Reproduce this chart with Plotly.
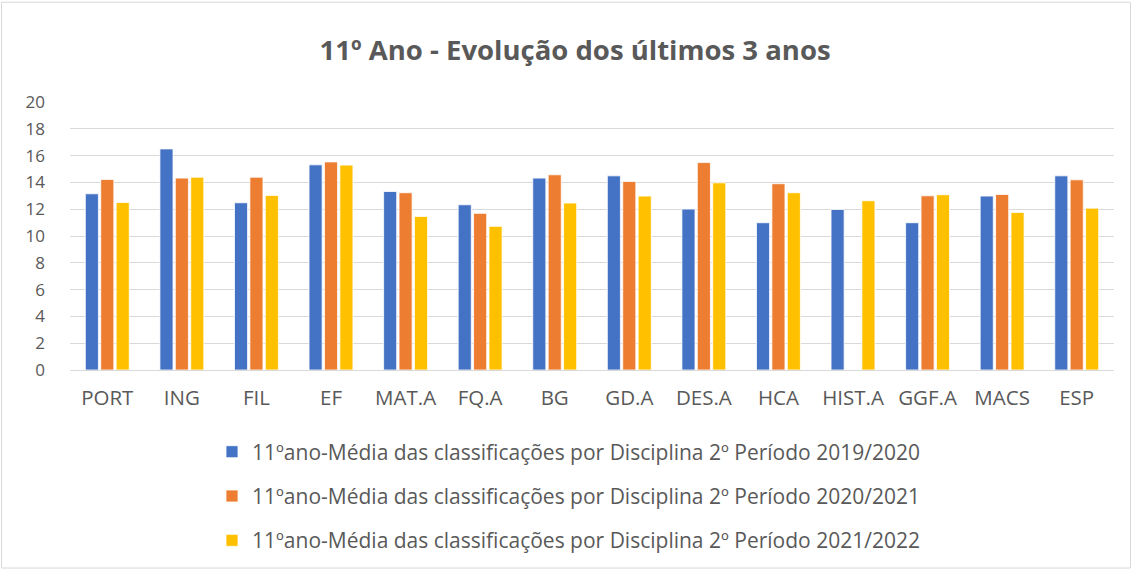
import plotly.graph_objects as go

categories = ["PORT", "ING", "FIL", "EF", "MAT.A", "FQ.A", "BG", "GD.A", "DES.A",
              "HCA", "HIST.A", "GGF.A", "MACS", "ESP"]

serie_2019_2020 = [13.15, 16.5, 12.48, 15.31, 13.32, 12.33, 14.32, 14.49, 12.01,
                   10.99, 11.98, 10.99, 12.98, 14.49]
serie_2020_2021 = [14.22, 14.32, 14.39, 15.53, 13.23, 11.69, 14.57, 14.07, 15.48,
                   13.9, None, 13.0, 13.1, 14.19]
serie_2021_2022 = [12.5, 14.39, 13.03, 15.29, 11.46, 10.72, 12.46, 12.98, 13.97,
                   13.23, 12.63, 13.08, 11.76, 12.08]

series_names = [
    "11ºano-Média das classificações por Disciplina 2º Período 2019/2020",
    "11ºano-Média das classificações por Disciplina 2º Período 2020/2021",
    "11ºano-Média das classificações por Disciplina 2º Período 2021/2022",
]
colors = ["#4472C4", "#ED7D31", "#FFC000"]

FONT = "Open Sans"
TEXT_COLOR = "#595959"

fig = go.Figure()
for name, vals, col, grp in zip(series_names,
                                [serie_2019_2020, serie_2020_2021, serie_2021_2022],
                                colors, ["a", "b", "c"]):
    fig.add_trace(go.Bar(
        x=categories, y=vals, name=name, legendgroup=grp,
        marker=dict(color=col, line=dict(color="white", width=0.8)),
    ))

W, H = 1132, 573
L, R, T, B = 70, 18, 102, 201
pw, ph = W - L - R, H - T - B

def px_x(p):
    return (p - L) / pw

def px_y(p):
    return (H - B - p) / ph

fig.update_layout(
    width=W, height=H,
    margin=dict(l=L, r=R, t=T, b=B),
    paper_bgcolor="white", plot_bgcolor="white",
    barmode="group", bargap=0.38, bargroupgap=0.15,
    font=dict(family=FONT, color=TEXT_COLOR, size=16),
    title=dict(text="<b>11º Ano - Evolução dos últimos 3 anos</b>",
               x=0.508, xanchor="center", y=1 - 50 / H, yanchor="middle",
               font=dict(family=FONT, size=27.5, color=TEXT_COLOR)),
    showlegend=True,
    legend=dict(orientation="v", x=px_x(212), xanchor="left",
                y=px_y(434), yanchor="top", tracegroupgap=14,
                font=dict(family=FONT, size=21, color=TEXT_COLOR),
                bgcolor="rgba(0,0,0,0)"),
    xaxis=dict(showgrid=False, showline=False, ticks="",
               tickfont=dict(size=20.5, color=TEXT_COLOR),
               ticklabelstandoff=13, range=[-0.5, 13.5]),
    yaxis=dict(range=[0, 20], dtick=2, showgrid=True, gridcolor="#D9D9D9",
               gridwidth=1.3, zeroline=True, zerolinecolor="#D9D9D9",
               zerolinewidth=1.3, showline=False, ticks="",
               tickfont=dict(size=17, color=TEXT_COLOR),
               ticklabelstandoff=24),
    shapes=[dict(type="rect", xref="paper", yref="paper",
                 x0=px_x(1.5), x1=px_x(1130.5), y0=px_y(571.5), y1=px_y(1.5),
                 line=dict(color="#D9D9D9", width=1), layer="below")],
)

fig.write_html("out.html")
